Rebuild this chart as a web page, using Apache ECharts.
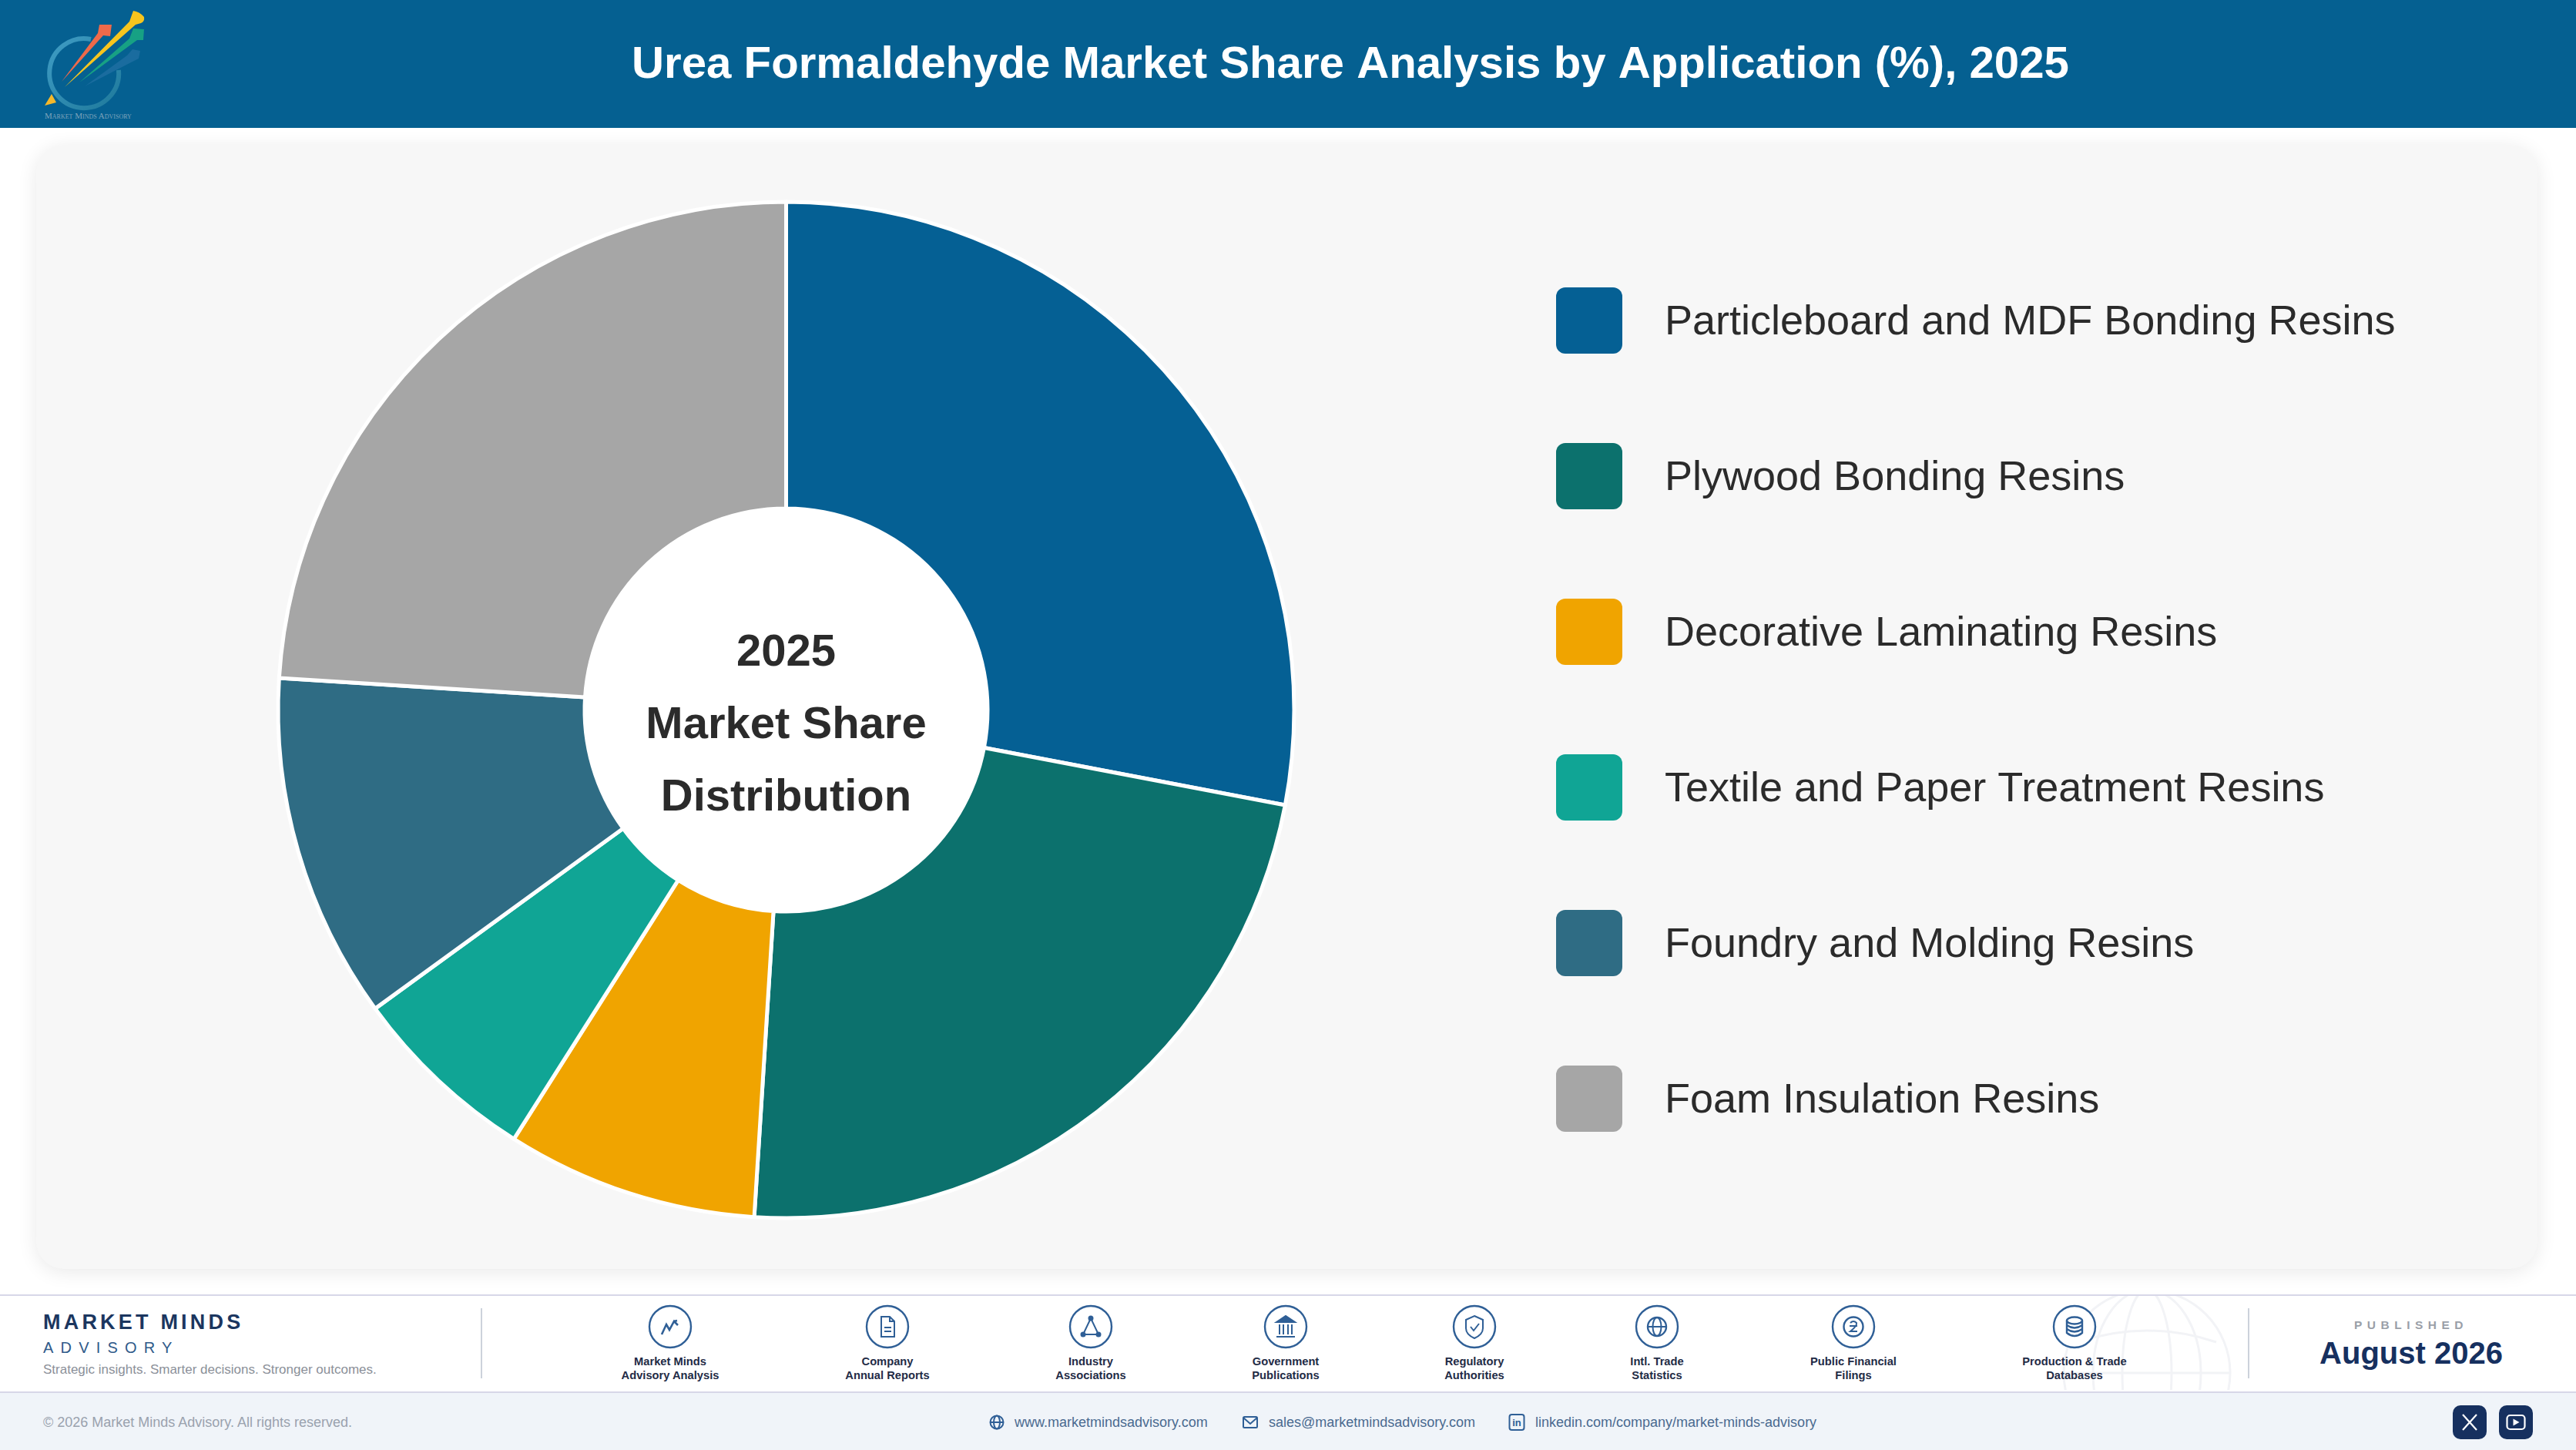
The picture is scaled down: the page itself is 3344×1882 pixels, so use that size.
<!DOCTYPE html>
<html>
<head>
<meta charset="utf-8">
<title>Urea Formaldehyde Market Share</title>
<script src="https://cdn.jsdelivr.net/npm/echarts@6/dist/echarts.min.js"></script>
<style>
	html, body { margin: 0; padding: 0; background: #fff; }
	body { width: 3344px; height: 1882px; position: relative; overflow: hidden; font-family: "Liberation Sans", Arial, sans-serif; }
	.abs { position: absolute; white-space: nowrap; }
	#header { left: 0; top: 0; width: 3344px; height: 166px; background: #056091; }
	#card { left: 47px; top: 188px; width: 3247px; height: 1459px; background: #f7f7f7; border-radius: 36px; box-shadow: 0 4px 26px rgba(0, 0, 0, 0.09); }
	#footerTop { left: 0; top: 1680px; width: 3344px; height: 126px; background: #fff; border-top: 2px solid #d7d7e8; box-sizing: border-box; }
	#footerBottom { left: 0; top: 1806px; width: 3344px; height: 76px; background: #f0f4f9; border-top: 2px solid #d7d7e8; box-sizing: border-box; }
	#chart { left: 0; top: 0; width: 3344px; height: 1882px; }
	.divider { top: 1698px; width: 2px; height: 91px; background: #ccd2db; }
	.source { width: 300px; text-align: center; top: 1758px; font-size: 14.7px; line-height: 18px; font-weight: bold; color: #1f2b46; }
	.contact { top: 1835px; font-size: 18px; line-height: 22px; color: #4a6a90; }
	.social { top: 1824px; width: 44px; height: 44px; border-radius: 10px; background: #16305f; }
</style>
</head>
<body>
<div class="abs" id="header"></div>
<div class="abs" id="card"></div>
<div class="abs" id="footerTop"></div>
<div class="abs" id="footerBottom"></div>

<!-- logo -->
<svg class="abs" style="left:0;top:0" width="300" height="166" viewBox="0 0 300 166">
	<defs>
		<linearGradient id="ringGrad" x1="0" y1="0" x2="1" y2="1">
			<stop offset="0" stop-color="#3f9cc4"/>
			<stop offset="1" stop-color="#1f7a9c"/>
		</linearGradient>
	</defs>
	<path d="M118,51 A45,45 0 1 0 154,91" fill="none" stroke="url(#ringGrad)" stroke-width="6"/>
	<path d="M110,112 L165,72 L172,64 L182,66 L180,76 L172,80 Z" fill="#3a7fb5" opacity="0.4"/>
	<path d="M103,107 L168,50 L173,37 L187,38 L186,52 L178,52 Z" fill="#17a184"/>
	<path d="M80,106 L127,43 L129,32 L145,32 L143,47 L134,46 Z" fill="#ef6a4a"/>
	<path d="M84,113 L168,28 L173,14 Q181,15 187,22 Q188,28 183,30 L176,32 Z" fill="#f7c51e"/>
	<path d="M58,137 L67,122 L73,133 Z" fill="#f5b82a"/>
	<text x="58" y="154" font-size="11" fill="#7ea3bb" font-family="Liberation Serif" style="font-variant:small-caps">Market Minds Advisory</text>
</svg>

<!-- faint globe in the footer -->
<svg class="abs" style="left:2660px;top:1682px" width="250" height="122" viewBox="0 0 250 122">
	<g fill="none" stroke="#f2f3f6" stroke-width="3">
		<circle cx="127" cy="100" r="108"/>
		<ellipse cx="127" cy="100" rx="70" ry="108"/>
		<ellipse cx="127" cy="100" rx="32" ry="108"/>
		<path d="M19,100 H235"/>
		<path d="M37,60 Q127,30 217,60"/>
	</g>
</svg>

<div class="abs divider" style="left:624px"></div>
<div class="abs divider" style="left:2918px"></div>

<div class="abs" style="left:56px;top:1701px;font-size:27px;line-height:30px;font-weight:bold;letter-spacing:4.2px;color:#1b365f">MARKET MINDS</div>
<div class="abs" style="left:56px;top:1737px;font-size:20px;line-height:24px;letter-spacing:9.2px;color:#2f5a8a">ADVISORY</div>
<div class="abs" style="left:56px;top:1768px;font-size:17px;line-height:20px;color:#8b9099">Strategic insights. Smarter decisions. Stronger outcomes.</div>
<div class="abs" style="left:56px;top:1835px;font-size:18px;line-height:22px;color:#9aa2ae">© 2026 Market Minds Advisory. All rights reserved.</div>

<div class="abs" style="left:2980px;width:300px;text-align:center;top:1711px;font-size:15.5px;line-height:18px;font-weight:bold;letter-spacing:6.5px;color:#9a9fa8">PUBLISHED</div>
<div class="abs" style="left:2980px;width:300px;text-align:center;top:1733px;font-size:40px;line-height:46px;font-weight:bold;color:#16305f">August 2026</div>

<div class="abs contact" style="left:1317px">www.marketmindsadvisory.com</div>
<div class="abs contact" style="left:1647px">sales@marketmindsadvisory.com</div>
<div class="abs contact" style="left:1993px">linkedin.com/company/market-minds-advisory</div>

<svg class="abs" style="left:0;top:1824px" width="2000" height="44" viewBox="0 1824 2000 44">
	<g fill="none" stroke="#2f5f96" stroke-width="2">
		<g transform="translate(1294,1846)"><circle r="8.5"/><ellipse rx="4" ry="8.5"/><path d="M-8.5,0 H8.5"/></g>
		<g transform="translate(1623,1846)"><rect x="-9" y="-7" width="18" height="14" rx="1.5"/><path d="M-9,-6 L0,2 L9,-6"/></g>
		<g transform="translate(1969,1846)"><rect x="-9.5" y="-10" width="19" height="20" rx="3"/></g>
	</g>
	<text x="1969" y="1851" text-anchor="middle" font-size="13" font-weight="bold" fill="#2f5f96" font-family="Liberation Sans">in</text>
</svg>

<div class="abs social" style="left:3184px"></div>
<div class="abs social" style="left:3244px"></div>
<svg class="abs" style="left:3184px;top:1824px" width="104" height="44" viewBox="0 0 104 44">
	<path d="M13,12 L31,32 M31,12 L13,32" stroke="#fff" stroke-width="2.2" fill="none"/>
	<rect x="70.5" y="13" width="23" height="18" rx="4" fill="none" stroke="#fff" stroke-width="2.2"/>
	<path d="M78.5,17.5 L86.5,22 L78.5,26.5 Z" fill="#fff"/>
</svg>

<div class="abs" id="sources"></div>
<div class="abs" id="chart"></div>

<script>
	//图表数据
	var categories = ['Particleboard and MDF Bonding Resins', 'Plywood Bonding Resins', 'Decorative Laminating Resins', 'Textile and Paper Treatment Resins', 'Foundry and Molding Resins', 'Foam Insulation Resins'];
	var shareValues = [28, 23, 8, 6, 11, 24];
	var sliceColors = ['#056094', '#0c716d', '#f0a400', '#10a595', '#2f6c84', '#a6a6a6'];
	var chartTitle = 'Urea Formaldehyde Market Share Analysis by Application (%), 2025';
	var centerLines = ['2025', 'Market Share', 'Distribution'];

	//页脚数据来源
	var sourceNames = [
		['Market Minds', 'Advisory Analysis'],
		['Company', 'Annual Reports'],
		['Industry', 'Associations'],
		['Government', 'Publications'],
		['Regulatory', 'Authorities'],
		['Intl. Trade', 'Statistics'],
		['Public Financial', 'Filings'],
		['Production & Trade', 'Databases']
	];
	var sourceCenters = [870, 1152, 1416, 1669, 1914, 2151, 2406, 2693];
	var sourceIcons = [
		'<path d="M-11,10 L-5,-3 L-1,4 L5,-7 L10,-2 M5,-7 L9,-8" fill="none" stroke-width="2.6"/>',
		'<path d="M-8,-13 H3 L9,-7 V13 H-8 Z M3,-13 V-7 H9 M-4,1 H5 M-4,6 H5" fill="none"/>',
		'<path d="M0,-11 L-10,10 H10 Z" fill="none"/><circle cy="-11" r="2.5" fill="#2f5f96"/><circle cx="-10" cy="10" r="2.5" fill="#2f5f96"/><circle cx="10" cy="10" r="2.5" fill="#2f5f96"/>',
		'<path d="M-12,-6 L0,-14 L12,-6 Z" fill="#2f5f96"/><path d="M-8,-3 V10 M-3,-3 V10 M3,-3 V10 M8,-3 V10 M-12,13 H12" fill="none"/>',
		'<path d="M0,-14 L11,-9 V2 Q11,10 0,15 Q-11,10 -11,2 V-9 Z" fill="none"/><path d="M-5,0 L-1,5 L6,-4" fill="none"/>',
		'<circle r="12" fill="none" stroke-width="2.4"/><ellipse rx="5.5" ry="12" fill="none"/><path d="M-12,0 H12" fill="none"/>',
		'<circle r="12.5" fill="none" stroke-width="2.4"/><path d="M-4,-5 Q0,-9 4,-5 Q5,-1 -4,6 H5 M-5,-1 H5" fill="none"/>',
		'<path d="M-10,-8 V8 Q0,16 10,8 V-8" fill="none" stroke-width="2.4"/><ellipse cy="-8" rx="10" ry="4.5" fill="none" stroke-width="2.4"/><path d="M-10,-2 Q0,5 10,-2 M-10,3 Q0,10 10,3" fill="none" stroke-width="2.4"/>'
	];

	//拼接页脚图标和文字
	function loadSources() {
		var html = '';
		for (var i = 0; i < sourceNames.length; i++) {
			var cx = sourceCenters[i];
			html += '<svg class="abs" style="left:' + (cx - 30) + 'px;top:1692px" width="60" height="60" viewBox="-30 -30 60 60">' +
				'<g stroke="#2f5f96" stroke-width="2"><circle r="27" fill="#fff" stroke-width="2.4"/>' + sourceIcons[i] + '</g></svg>';
			html += '<div class="abs source" style="left:' + (cx - 150) + 'px">' + sourceNames[i][0].replace('&', '&amp;') + '<br>' + sourceNames[i][1] + '</div>';
		}
		document.getElementById('sources').innerHTML = html;
	}

	function loadChart() {
		var seriesData = [];
		for (var i = 0; i < categories.length; i++) {
			seriesData.push({
				name: categories[i],
				value: shareValues[i],
				itemStyle: {
					color: sliceColors[i]
				}
			});
		}

		var option = {
			animation: false,
			title: {
				text: chartTitle,
				left: 1748,
				top: 51,
				textAlign: 'center',
				textStyle: {
					fontFamily: 'Liberation Sans',
					fontSize: 58.2,
					fontWeight: 'bold',
					color: '#ffffff'
				}
			},
			legend: {
				orient: 'vertical',
				left: 2020,
				top: 373,
				padding: 0,
				itemWidth: 86,
				itemHeight: 92,
				itemGap: 110,
				//图标下方多留6px, 文字相对色块下移3px
				icon: 'path://M12,0 H74 A12,12 0 0 1 86,12 V74 A12,12 0 0 1 74,86 H12 A12,12 0 0 1 0,74 V12 A12,12 0 0 1 12,0 Z M0,92 L0,92',
				itemStyle: {
					borderWidth: 0
				},
				data: categories,
				textStyle: {
					fontFamily: 'Liberation Sans',
					fontSize: 54,
					color: '#2b2b2b',
					padding: [0, 0, 0, 50]
				}
			},
			series: [{
				name: 'share',
				type: 'pie',
				center: [1020.5, 921.5],
				radius: [261.5, 659.5],
				startAngle: 90,
				clockwise: true,
				silent: true,
				label: {
					show: false
				},
				labelLine: {
					show: false
				},
				itemStyle: {
					borderColor: '#ffffff',
					borderWidth: 5
				},
				data: seriesData
			}, {
				name: 'center',
				type: 'pie',
				center: [1020.5, 921.5],
				radius: [0, 262],
				silent: true,
				labelLine: {
					show: false
				},
				label: {
					show: true,
					position: 'center',
					formatter: centerLines.join('\n'),
					fontFamily: 'Liberation Sans',
					fontSize: 58,
					fontWeight: 'bold',
					lineHeight: 94,
					color: '#2b2b2b'
				},
				labelLayout: {
					dy: 20
				},
				itemStyle: {
					color: '#ffffff'
				},
				data: [{
					name: 'center',
					value: 1
				}]
			}]
		};
		echarts.init(document.getElementById('chart')).setOption(option);
	}

	loadSources();
	loadChart();
</script>
</body>
</html>
